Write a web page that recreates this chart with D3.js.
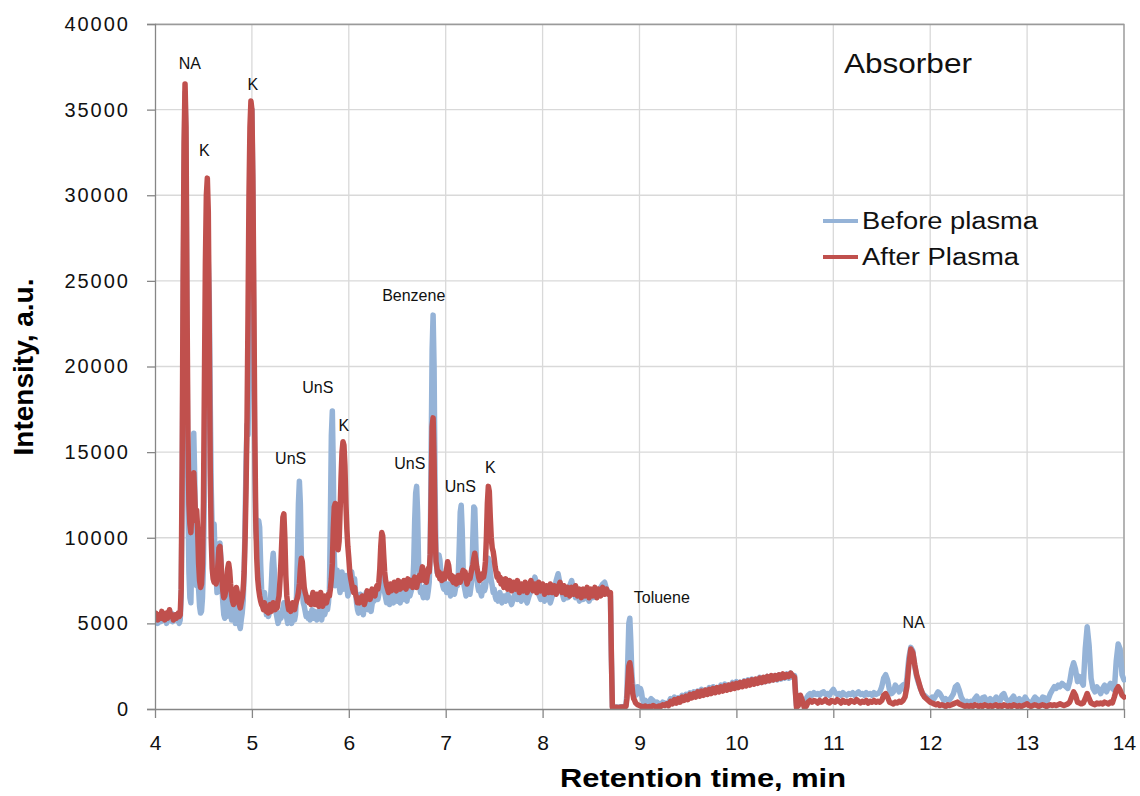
<!DOCTYPE html>
<html>
<head>
<meta charset="utf-8">
<script src="https://cdn.jsdelivr.net/npm/d3@7"></script>
<style>
  body { margin: 0; background: #fff; }
  svg { font-family: "Liberation Sans", Arial, sans-serif; }
  .grid line { stroke: #d9d9d9; stroke-width: 1.3px; }
  .axis path, .axis line { stroke: #868686; stroke-width: 1.3px; }
  .axis text { fill: #111; }
  .series { fill: none; stroke-width: 5.5px; stroke-linejoin: round; stroke-linecap: round; }
</style>
</head>
<body>
<svg id="chart" width="1140" height="796"></svg>
<script>
// axis ticks
var xTicks = [4, 5, 6, 7, 8, 9, 10, 11, 12, 13, 14];
var yTicks = [0, 5000, 10000, 15000, 20000, 25000, 30000, 35000, 40000];

var seriesNames = ["Before plasma", "After Plasma"];
var seriesColors = ["#95b3d7", "#c0504d"];

// [retention time (min), intensity (a.u.)]
var beforePlasma = [
  [4.00,5100],[4.02,5300],[4.03,5000],[4.05,5400],[4.06,5100],[4.08,5500],[4.09,5200],[4.11,5300],[4.12,5000],[4.14,5400],
  [4.15,5200],[4.17,5600],[4.18,5100],[4.20,5500],[4.21,5200],[4.23,5300],[4.25,5000],[4.26,5200],[4.27,6500],[4.28,12000],
  [4.29,22000],[4.30,31000],[4.31,36000],[4.32,33000],[4.33,22000],[4.34,12000],[4.35,8000],[4.36,6500],[4.37,6200],[4.38,9000],
  [4.39,14000],[4.40,16100],[4.41,13500],[4.42,9000],[4.43,7200],[4.44,8500],[4.45,7000],[4.46,6000],[4.47,5600],[4.48,5700],
  [4.49,6500],[4.50,8500],[4.51,13000],[4.52,19000],[4.53,23000],[4.54,25500],[4.55,26100],[4.56,24000],[4.57,18000],[4.58,13000],
  [4.59,10500],[4.60,9500],[4.61,10800],[4.62,9000],[4.63,7800],[4.64,6800],[4.65,7500],[4.66,8400],[4.67,9700],[4.68,8800],
  [4.69,7200],[4.70,6200],[4.71,5500],[4.72,5300],[4.73,6000],[4.74,5400],[4.75,6200],[4.76,6800],[4.77,6500],[4.78,5800],
  [4.79,5200],[4.80,5500],[4.81,6100],[4.82,5300],[4.83,5000],[4.84,5600],[4.85,6200],[4.86,5400],[4.87,4900],[4.88,4700],
  [4.89,5200],[4.90,5600],[4.91,6300],[4.92,8000],[4.93,11000],[4.94,14500],[4.95,16600],[4.96,16000],[4.97,20000],[4.98,28000],
  [4.99,34000],[5.00,35000],[5.01,30000],[5.02,21000],[5.03,14000],[5.04,10500],[5.05,9800],[5.06,10200],[5.07,11000],[5.08,10600],
  [5.09,8500],[5.10,7000],[5.11,6300],[5.12,6000],[5.13,6800],[5.14,6200],[5.15,5500],[5.16,5800],[5.17,5400],[5.18,5600],
  [5.19,6200],[5.20,7200],[5.21,8500],[5.22,9100],[5.23,8200],[5.24,6500],[5.25,5600],[5.26,5300],[5.27,5000],[5.28,5200],
  [5.29,5600],[5.30,5300],[5.31,5500],[5.32,5900],[5.33,6200],[5.34,6000],[5.35,5600],[5.36,5300],[5.37,5000],[5.38,5200],
  [5.39,5400],[5.40,5100],[5.41,5000],[5.42,5300],[5.43,5600],[5.44,5200],[5.45,5500],[5.46,6500],[5.47,9000],[5.48,12000],
  [5.49,13300],[5.50,12000],[5.51,9000],[5.52,7000],[5.53,6200],[5.54,6000],[5.55,5700],[5.56,5400],[5.57,5600],[5.58,5300],
  [5.59,5500],[5.60,5200],[5.61,5500],[5.62,5800],[5.63,5400],[5.64,5300],[5.65,5700],[5.66,5500],[5.67,5200],[5.68,5600],
  [5.69,5400],[5.70,5800],[5.71,5500],[5.72,5200],[5.73,5600],[5.74,5900],[5.75,5500],[5.76,5700],[5.77,6000],[5.78,5800],
  [5.79,6200],[5.80,7000],[5.81,11000],[5.82,16000],[5.83,17400],[5.84,14000],[5.85,9000],[5.86,7200],[5.87,7800],[5.88,8100],
  [5.89,7600],[5.90,7200],[5.91,6800],[5.92,7500],[5.93,8000],[5.94,7400],[5.95,7000],[5.96,7300],[5.97,7800],[5.98,7100],
  [5.99,6600],[6.00,6900],[6.01,7400],[6.02,7800],[6.03,8000],[6.04,7500],[6.05,7000],[6.06,7600],[6.07,6800],[6.08,6200],
  [6.09,5800],[6.10,5600],[6.11,6200],[6.12,6700],[6.13,6300],[6.14,5800],[6.15,5500],[6.16,6000],[6.17,6600],[6.18,6800],
  [6.19,6200],[6.20,5800],[6.21,6300],[6.22,6000],[6.23,5700],[6.24,6100],[6.25,6500],[6.26,6300],[6.27,6800],[6.28,7000],
  [6.29,6600],[6.30,6400],[6.31,6700],[6.32,7100],[6.33,7800],[6.34,8200],[6.35,8000],[6.36,7300],[6.37,6800],[6.38,6500],
  [6.39,6200],[6.40,6600],[6.41,6300],[6.42,6100],[6.43,6500],[6.44,6800],[6.45,6400],[6.46,6200],[6.47,6600],[6.48,6900],
  [6.49,6500],[6.50,6300],[6.51,6700],[6.52,6400],[6.53,6200],[6.54,6600],[6.55,7000],[6.56,6700],[6.57,6400],[6.58,6800],
  [6.59,6500],[6.60,6300],[6.61,6700],[6.62,6900],[6.63,6600],[6.64,6800],[6.65,7000],[6.66,7300],[6.67,8500],[6.68,11000],
  [6.69,12600],[6.70,13000],[6.71,11500],[6.72,8500],[6.73,7200],[6.74,6800],[6.75,7100],[6.76,6700],[6.77,6500],[6.78,6900],
  [6.79,7200],[6.80,6800],[6.81,6500],[6.82,6900],[6.83,7400],[6.84,9000],[6.85,15000],[6.86,21000],[6.87,23000],[6.88,20000],
  [6.89,13000],[6.90,9000],[6.91,8000],[6.92,8500],[6.93,9000],[6.94,8700],[6.95,8000],[6.96,7500],[6.97,7200],[6.98,7000],
  [6.99,7400],[7.00,7200],[7.01,6800],[7.02,7000],[7.03,7300],[7.04,6900],[7.05,6600],[7.06,7000],[7.07,7300],[7.08,6900],
  [7.09,6700],[7.10,7000],[7.11,7400],[7.12,7200],[7.13,7800],[7.14,9500],[7.15,11500],[7.16,11900],[7.17,10500],[7.18,8200],
  [7.19,7200],[7.20,6900],[7.21,6600],[7.22,7000],[7.23,7300],[7.24,6900],[7.25,6700],[7.26,7100],[7.27,7600],[7.28,10000],
  [7.29,11800],[7.30,11700],[7.31,9800],[7.32,7800],[7.33,7200],[7.34,6900],[7.35,7100],[7.36,6800],[7.37,6600],[7.38,7000],
  [7.39,7300],[7.40,6900],[7.41,7100],[7.42,7600],[7.43,8200],[7.44,8800],[7.45,8600],[7.46,8000],[7.47,7500],[7.48,7200],
  [7.49,6800],[7.50,7000],[7.51,6600],[7.52,6400],[7.53,6700],[7.54,6300],[7.55,6500],[7.56,6800],[7.57,6400],[7.58,6200],
  [7.60,6600],[7.62,6300],[7.64,6700],[7.66,6400],[7.68,6100],[7.70,6500],[7.72,6800],[7.74,6400],[7.76,6600],[7.78,6300],
  [7.80,6700],[7.82,6500],[7.84,6200],[7.86,6600],[7.88,6900],[7.90,7200],[7.92,7700],[7.94,7300],[7.96,6700],[7.98,6400],
  [8.00,6600],[8.02,6300],[8.04,6700],[8.06,6500],[8.08,6200],[8.10,6600],[8.12,6900],[8.14,7500],[8.16,7900],[8.18,7300],
  [8.20,6800],[8.22,6400],[8.24,6700],[8.26,6500],[8.28,7200],[8.30,7500],[8.32,6900],[8.34,6500],[8.36,6700],[8.38,6300],
  [8.40,6600],[8.42,6400],[8.44,6800],[8.46,6500],[8.48,6300],[8.50,6700],[8.52,6500],[8.54,6800],[8.56,6600],[8.58,6900],
  [8.60,7100],[8.62,7300],[8.64,7400],[8.66,7000],[8.68,6800],[8.70,6600],[8.71,3000],[8.72,150],[8.74,100],[8.76,120],
  [8.78,100],[8.80,130],[8.82,110],[8.84,150],[8.86,200],[8.87,900],[8.88,3000],[8.89,5000],[8.90,5300],[8.91,4000],
  [8.92,2200],[8.93,1400],[8.94,1200],[8.95,1000],[8.96,800],[8.97,900],[8.98,1300],[8.99,1100],[9.00,900],[9.01,1200],
  [9.02,1000],[9.03,600],[9.04,400],[9.06,500],[9.08,300],[9.10,400],[9.12,600],[9.14,500],[9.16,300],[9.18,400],
  [9.20,300],[9.22,250],[9.24,400],[9.26,350],[9.28,300],[9.30,350],[9.32,600],[9.34,400],[9.36,700],[9.38,450],
  [9.40,650],[9.42,500],[9.44,800],[9.46,550],[9.48,850],[9.50,650],[9.52,950],[9.54,700],[9.56,1000],[9.58,750],
  [9.60,1050],[9.62,800],[9.64,1150],[9.66,900],[9.68,1100],[9.70,950],[9.72,1250],[9.74,950],[9.76,1300],[9.78,1050],
  [9.80,1250],[9.82,1100],[9.84,1400],[9.86,1150],[9.88,1450],[9.90,1200],[9.92,1400],[9.94,1250],[9.96,1550],[9.98,1250],
  [10.00,1600],[10.02,1300],[10.04,1550],[10.06,1350],[10.08,1650],[10.10,1400],[10.12,1700],[10.14,1450],[10.16,1750],[10.18,1500],
  [10.20,1700],[10.22,1550],[10.24,1850],[10.26,1550],[10.28,1800],[10.30,1600],[10.32,1900],[10.34,1650],[10.36,1850],[10.38,1700],
  [10.40,1950],[10.42,1700],[10.44,2000],[10.46,1750],[10.48,1950],[10.50,1800],[10.52,2050],[10.54,1800],[10.56,2100],[10.58,1850],
  [10.60,1950],[10.61,1000],[10.62,200],[10.64,300],[10.66,700],[10.68,500],[10.70,300],[10.72,600],[10.74,800],[10.76,900],
  [10.78,800],[10.80,950],[10.82,850],[10.84,900],[10.86,800],[10.88,950],[10.90,1000],[10.92,850],[10.94,900],[10.96,800],
  [10.98,1000],[11.00,1150],[11.02,950],[11.04,850],[11.06,900],[11.08,800],[11.10,950],[11.12,850],[11.14,800],[11.16,900],
  [11.18,850],[11.20,950],[11.22,800],[11.24,900],[11.26,1000],[11.28,850],[11.30,900],[11.32,800],[11.34,950],[11.36,850],
  [11.38,900],[11.40,800],[11.42,950],[11.44,850],[11.46,900],[11.48,1000],[11.50,1300],[11.52,1800],[11.54,2000],[11.56,1700],
  [11.58,1100],[11.60,900],[11.62,1000],[11.64,1400],[11.66,1200],[11.68,1000],[11.70,1300],[11.72,1400],[11.74,1100],[11.76,1800],
  [11.78,3000],[11.80,3600],[11.82,3400],[11.84,2500],[11.86,1900],[11.88,1500],[11.90,1200],[11.92,900],[11.94,800],[11.96,700],
  [11.98,600],[12.00,500],[12.02,700],[12.04,600],[12.06,800],[12.08,1000],[12.10,900],[12.12,700],[12.14,500],[12.16,600],
  [12.18,500],[12.20,550],[12.22,700],[12.24,900],[12.26,1300],[12.28,1400],[12.30,1100],[12.32,700],[12.34,500],[12.36,400],
  [12.38,450],[12.40,350],[12.42,450],[12.44,400],[12.46,600],[12.48,750],[12.50,500],[12.52,400],[12.54,650],[12.56,700],
  [12.58,500],[12.60,450],[12.62,600],[12.64,400],[12.66,500],[12.68,700],[12.70,600],[12.72,450],[12.74,800],[12.76,900],
  [12.78,600],[12.80,500],[12.82,400],[12.84,600],[12.86,750],[12.88,500],[12.90,400],[12.92,600],[12.94,500],[12.96,400],
  [12.98,700],[13.00,500],[13.02,400],[13.04,350],[13.06,500],[13.08,700],[13.10,600],[13.12,400],[13.14,450],[13.16,700],
  [13.18,650],[13.20,400],[13.22,600],[13.24,900],[13.26,1100],[13.28,1300],[13.30,1200],[13.32,1400],[13.34,1300],[13.36,1500],
  [13.38,1400],[13.40,1300],[13.42,1200],[13.44,1600],[13.46,2300],[13.48,2700],[13.50,2300],[13.52,1600],[13.54,1900],[13.56,1600],
  [13.58,1400],[13.60,3500],[13.62,4800],[13.64,3700],[13.66,1800],[13.68,1200],[13.70,1000],[13.72,1300],[13.74,1100],[13.76,900],
  [13.78,1200],[13.80,1400],[13.82,1000],[13.84,1300],[13.86,1500],[13.88,1200],[13.90,1100],[13.92,2800],[13.94,3800],[13.96,3500],
  [13.98,2000],[14.00,1700]
];

var afterPlasma = [
  [4.00,5300],[4.01,5600],[4.03,5200],[4.04,5500],[4.06,5300],[4.07,5700],[4.09,5400],[4.10,5200],[4.12,5600],[4.13,5300],
  [4.15,5800],[4.16,5400],[4.18,5500],[4.19,5200],[4.21,5500],[4.22,5300],[4.24,5600],[4.25,5400],[4.26,5500],[4.27,7000],
  [4.28,14000],[4.29,25000],[4.30,33000],[4.31,36500],[4.32,34000],[4.33,24000],[4.34,16000],[4.35,12000],[4.36,10800],[4.37,10300],
  [4.38,11500],[4.39,13000],[4.40,13800],[4.41,12500],[4.42,11000],[4.43,11600],[4.44,10500],[4.45,8500],[4.46,7500],[4.47,7100],
  [4.48,7300],[4.49,8500],[4.50,12000],[4.51,19000],[4.52,26000],[4.53,30000],[4.54,31000],[4.55,29000],[4.56,22000],[4.57,14000],
  [4.58,10000],[4.59,8200],[4.60,7600],[4.61,7400],[4.62,7800],[4.63,7300],[4.64,7600],[4.65,8500],[4.66,9400],[4.67,9500],
  [4.68,8700],[4.69,7600],[4.70,6900],[4.71,6500],[4.72,6600],[4.73,6900],[4.74,7500],[4.75,8200],[4.76,8500],[4.77,8100],
  [4.78,7300],[4.79,6700],[4.80,6300],[4.81,6100],[4.82,6300],[4.83,6700],[4.84,7100],[4.85,6800],[4.86,6300],[4.87,6100],
  [4.88,5900],[4.89,6200],[4.90,6500],[4.91,7000],[4.92,8000],[4.93,10000],[4.94,13000],[4.95,17000],[4.96,23000],[4.97,30000],
  [4.98,34000],[4.99,35500],[5.00,35000],[5.01,31000],[5.02,24000],[5.03,16000],[5.04,11000],[5.05,8800],[5.06,7600],[5.07,7000],
  [5.08,6600],[5.09,6300],[5.10,6100],[5.11,6000],[5.12,5800],[5.13,6200],[5.14,5900],[5.15,5700],[5.16,6000],[5.17,5600],
  [5.18,5800],[5.19,6100],[5.20,5700],[5.21,5900],[5.22,6200],[5.23,6000],[5.24,5800],[5.25,6100],[5.26,5900],[5.27,6300],
  [5.28,6600],[5.29,7500],[5.30,8600],[5.31,10000],[5.32,11200],[5.33,11400],[5.34,10000],[5.35,7800],[5.36,6600],[5.37,6100],
  [5.38,5800],[5.39,6000],[5.40,5700],[5.41,5900],[5.42,6200],[5.43,6000],[5.44,5800],[5.45,6100],[5.46,6300],[5.47,6500],
  [5.48,6800],[5.49,7300],[5.50,8200],[5.51,8800],[5.52,8600],[5.53,7800],[5.54,7100],[5.55,6800],[5.56,6600],[5.57,6300],
  [5.58,6500],[5.59,6200],[5.60,6400],[5.61,6100],[5.62,6500],[5.63,6800],[5.64,6300],[5.65,6100],[5.66,6500],[5.67,6700],
  [5.68,6200],[5.69,6000],[5.70,6400],[5.71,6800],[5.72,6300],[5.73,6000],[5.74,6200],[5.75,6600],[5.76,6300],[5.77,6200],
  [5.78,6500],[5.79,6700],[5.80,6600],[5.81,7000],[5.82,7600],[5.83,8500],[5.84,10500],[5.85,11800],[5.86,12000],[5.87,11200],
  [5.88,9800],[5.89,9300],[5.90,9800],[5.91,11500],[5.92,13500],[5.93,15000],[5.94,15600],[5.95,15400],[5.96,14200],[5.97,12000],
  [5.98,10500],[5.99,9500],[6.00,8800],[6.01,8000],[6.02,7600],[6.03,7300],[6.04,7000],[6.05,6800],[6.06,7100],[6.07,6700],
  [6.08,6500],[6.09,6200],[6.10,6400],[6.11,6200],[6.12,6500],[6.13,6300],[6.14,6600],[6.15,6400],[6.16,6100],[6.17,6300],
  [6.18,6600],[6.19,6900],[6.20,6500],[6.21,6700],[6.22,6400],[6.23,6800],[6.24,7000],[6.25,6700],[6.26,6900],[6.27,6600],
  [6.28,7000],[6.29,7200],[6.30,7000],[6.31,7400],[6.32,8200],[6.33,9500],[6.34,10300],[6.35,10100],[6.36,9000],[6.37,8000],
  [6.38,7500],[6.39,7200],[6.40,7000],[6.41,6800],[6.42,7100],[6.43,7300],[6.44,6900],[6.45,7200],[6.46,7000],[6.47,7400],
  [6.48,7100],[6.49,6900],[6.50,7300],[6.51,7500],[6.52,7200],[6.53,7000],[6.54,7400],[6.55,7300],[6.56,7100],[6.57,7500],
  [6.58,7200],[6.59,7000],[6.60,7300],[6.61,7600],[6.62,7400],[6.63,7200],[6.64,7500],[6.65,7300],[6.66,7100],[6.67,7400],
  [6.68,7700],[6.69,7300],[6.70,7100],[6.71,7400],[6.72,7600],[6.73,7800],[6.74,7500],[6.75,8000],[6.76,8300],[6.77,7800],
  [6.78,7500],[6.79,7700],[6.80,7400],[6.81,7800],[6.82,8200],[6.83,8000],[6.84,9000],[6.85,12500],[6.86,16500],[6.87,17000],
  [6.88,14500],[6.89,10500],[6.90,8600],[6.91,8200],[6.92,7800],[6.93,8000],[6.94,7600],[6.95,7900],[6.96,7500],[6.97,7700],
  [6.98,7900],[6.99,7600],[7.00,7900],[7.01,8200],[7.02,8600],[7.03,8400],[7.04,7900],[7.05,7600],[7.06,7800],[7.07,7500],
  [7.08,7400],[7.09,7700],[7.10,7600],[7.11,7300],[7.12,7500],[7.13,7800],[7.14,7600],[7.15,7400],[7.16,7700],[7.17,7900],
  [7.18,8100],[7.19,7800],[7.20,8000],[7.21,7600],[7.22,7300],[7.23,7500],[7.24,7800],[7.25,7600],[7.26,7900],[7.27,8200],
  [7.28,8400],[7.29,8800],[7.30,9100],[7.31,8700],[7.32,8300],[7.33,8000],[7.34,7700],[7.35,7500],[7.36,7800],[7.37,7600],
  [7.38,7900],[7.39,7700],[7.40,8000],[7.41,8600],[7.42,10000],[7.43,12000],[7.44,13000],[7.45,12700],[7.46,11200],[7.47,10000],
  [7.48,9400],[7.49,9200],[7.50,8800],[7.51,8300],[7.52,8000],[7.53,7700],[7.54,7900],[7.55,7500],[7.56,7700],[7.57,7300],
  [7.58,7600],[7.60,7100],[7.62,7600],[7.64,7000],[7.66,7500],[7.68,6900],[7.70,7400],[7.72,7000],[7.74,7500],[7.76,6800],
  [7.78,7300],[7.80,6900],[7.82,7400],[7.84,6800],[7.86,7200],[7.88,7500],[7.90,6900],[7.92,7300],[7.94,6800],[7.96,7400],
  [7.98,6900],[8.00,7300],[8.02,6700],[8.04,7200],[8.06,6800],[8.08,7300],[8.10,6800],[8.12,7200],[8.14,6700],[8.16,7100],
  [8.18,7400],[8.20,6800],[8.22,7200],[8.24,6700],[8.26,7100],[8.28,6600],[8.30,7100],[8.32,6700],[8.34,7200],[8.36,6600],
  [8.38,7000],[8.40,6500],[8.42,7000],[8.44,6600],[8.46,7100],[8.48,6500],[8.50,7000],[8.52,6600],[8.54,7100],[8.56,6500],
  [8.58,7000],[8.60,6600],[8.62,7100],[8.64,6700],[8.66,7000],[8.68,6700],[8.70,6800],[8.71,3000],[8.72,100],[8.74,80],
  [8.76,100],[8.78,90],[8.80,100],[8.82,120],[8.84,100],[8.86,150],[8.87,600],[8.88,1600],[8.89,2500],[8.90,2700],
  [8.91,2300],[8.92,1500],[8.93,900],[8.94,600],[8.95,500],[8.96,350],[8.98,250],[9.00,200],[9.02,150],[9.04,120],
  [9.06,180],[9.08,100],[9.10,150],[9.12,120],[9.14,200],[9.16,150],[9.18,100],[9.20,180],[9.22,150],[9.24,250],
  [9.26,200],[9.28,300],[9.30,200],[9.32,450],[9.34,300],[9.36,550],[9.38,350],[9.40,600],[9.42,400],[9.44,700],
  [9.46,500],[9.48,750],[9.50,550],[9.52,850],[9.54,650],[9.56,900],[9.58,700],[9.60,1000],[9.62,750],[9.64,1050],
  [9.66,800],[9.68,1100],[9.70,850],[9.72,1150],[9.74,900],[9.76,1200],[9.78,950],[9.80,1250],[9.82,1000],[9.84,1300],
  [9.86,1050],[9.88,1350],[9.90,1100],[9.92,1400],[9.94,1150],[9.96,1450],[9.98,1200],[10.00,1500],[10.02,1250],[10.04,1550],
  [10.06,1300],[10.08,1600],[10.10,1350],[10.12,1650],[10.14,1400],[10.16,1700],[10.18,1450],[10.20,1750],[10.22,1500],[10.24,1800],
  [10.26,1550],[10.28,1850],[10.30,1600],[10.32,1900],[10.34,1650],[10.36,1950],[10.38,1700],[10.40,1950],[10.42,1750],[10.44,2000],
  [10.46,1800],[10.48,2050],[10.50,1850],[10.52,2000],[10.54,1900],[10.56,2100],[10.58,1950],[10.60,1850],[10.61,900],[10.62,100],
  [10.64,200],[10.66,800],[10.68,500],[10.70,100],[10.72,150],[10.74,400],[10.76,500],[10.78,400],[10.80,500],[10.82,450],
  [10.84,350],[10.86,500],[10.88,400],[10.90,450],[10.92,550],[10.94,400],[10.96,350],[10.98,500],[11.00,450],[11.02,400],
  [11.04,550],[11.06,450],[11.08,350],[11.10,500],[11.12,400],[11.14,450],[11.16,350],[11.18,500],[11.20,450],[11.22,400],
  [11.24,550],[11.26,450],[11.28,350],[11.30,450],[11.32,400],[11.34,500],[11.36,350],[11.38,450],[11.40,400],[11.42,500],
  [11.44,400],[11.46,450],[11.48,400],[11.50,500],[11.52,800],[11.54,900],[11.56,700],[11.58,400],[11.60,350],[11.62,300],
  [11.64,400],[11.66,350],[11.68,450],[11.70,400],[11.72,500],[11.74,700],[11.76,1300],[11.78,2600],[11.80,3500],[11.82,3300],
  [11.84,2600],[11.86,2000],[11.88,1600],[11.90,1200],[11.92,900],[11.94,700],[11.96,600],[11.98,500],[12.00,400],[12.02,350],
  [12.04,300],[12.06,250],[12.08,300],[12.10,200],[12.12,250],[12.14,200],[12.16,150],[12.18,250],[12.20,200],[12.22,250],
  [12.24,300],[12.26,350],[12.28,400],[12.30,300],[12.32,250],[12.34,200],[12.36,150],[12.38,200],[12.40,150],[12.42,200],
  [12.44,150],[12.46,250],[12.48,200],[12.50,150],[12.52,200],[12.54,150],[12.56,250],[12.58,200],[12.60,150],[12.62,200],
  [12.64,150],[12.66,200],[12.68,250],[12.70,150],[12.72,200],[12.74,150],[12.76,250],[12.78,200],[12.80,150],[12.82,200],
  [12.84,150],[12.86,250],[12.88,200],[12.90,150],[12.92,200],[12.94,150],[12.96,200],[12.98,250],[13.00,300],[13.02,200],
  [13.04,150],[13.06,200],[13.08,250],[13.10,200],[13.12,150],[13.14,200],[13.16,250],[13.18,200],[13.20,150],[13.22,200],
  [13.24,250],[13.26,200],[13.28,250],[13.30,200],[13.32,250],[13.34,300],[13.36,250],[13.38,200],[13.40,250],[13.42,300],
  [13.44,400],[13.46,700],[13.48,1000],[13.50,800],[13.52,400],[13.54,350],[13.56,300],[13.58,350],[13.60,600],[13.62,900],
  [13.64,600],[13.66,350],[13.68,300],[13.70,250],[13.72,350],[13.74,300],[13.76,350],[13.78,300],[13.80,400],[13.82,350],
  [13.84,300],[13.86,400],[13.88,350],[13.90,700],[13.92,1100],[13.94,1300],[13.96,1100],[13.98,800],[14.00,700]
];

// peak labels: text, retention time of label centre, intensity at label baseline
var peakLabels = ["NA", "K", "K", "UnS", "UnS", "K", "Benzene", "UnS", "UnS", "K", "Toluene", "NA"];
var peakLabelTimes = [4.36, 4.51, 5.01, 5.40, 5.68, 5.95, 6.67, 6.63, 7.15, 7.46, 9.23, 11.83];
var peakLabelLevels = [37400, 32300, 36150, 14300, 18450, 16230, 23800, 14000, 12670, 13780, 6190, 4730];

var margin = {top: 24, right: 16, bottom: 87, left: 155};
var width = 1140 - margin.left - margin.right;
var height = 796 - margin.top - margin.bottom;

var svg = d3.select("#chart");
var g = svg.append("g").attr("transform", "translate(" + margin.left + "," + margin.top + ")");

var x = d3.scaleLinear().domain([4, 14]).range([0, width]);
var y = d3.scaleLinear().domain([0, 40000]).range([height, 0]);

// gridlines
g.append("g").attr("class", "grid")
  .selectAll("line.v").data(xTicks.slice(1)).enter().append("line")
    .attr("x1", function(d) { return x(d); }).attr("x2", function(d) { return x(d); })
    .attr("y1", 0).attr("y2", height);
g.select(".grid")
  .selectAll("line.h").data(yTicks.slice(1)).enter().append("line")
    .attr("x1", 0).attr("x2", width)
    .attr("y1", function(d) { return y(d); }).attr("y2", function(d) { return y(d); });

// plot border top and right
g.append("path")
  .attr("d", "M0,0.5H" + width + "V" + height)
  .attr("fill", "none").attr("stroke", "#9a9a9a").attr("stroke-width", 1.3);

g.append("clipPath").attr("id", "clip")
  .append("rect").attr("x", 0).attr("y", -2).attr("width", width + 2).attr("height", height + 2);

var line = d3.line()
  .x(function(d) { return x(d[0]); })
  .y(function(d) { return y(d[1]); });

var plot = g.append("g").attr("clip-path", "url(#clip)");
[beforePlasma, afterPlasma].forEach(function(s, i) {
  plot.append("path")
    .datum(s)
    .attr("class", "series")
    .attr("stroke", seriesColors[i])
    .attr("d", line);
});

// axes
var yAxis = g.append("g").attr("class", "axis")
  .call(d3.axisLeft(y).tickValues(yTicks).tickSize(8).tickPadding(19).tickFormat(d3.format("d")));
yAxis.selectAll("text").attr("font-size", 20).style("letter-spacing", "2px").attr("dx", "2px");

var xAxis = g.append("g").attr("class", "axis")
  .attr("transform", "translate(0," + height + ")")
  .call(d3.axisBottom(x).tickValues(xTicks).tickSize(9).tickPadding(17).tickFormat(d3.format("d")));
xAxis.selectAll("text").attr("font-size", 21);
xAxis.select(".domain").attr("d", "M0,0.5H" + width);

// axis titles
svg.append("text")
  .attr("x", 703).attr("y", 787)
  .attr("text-anchor", "middle")
  .attr("font-size", 26).attr("font-weight", "bold")
  .attr("textLength", 286).attr("lengthAdjust", "spacingAndGlyphs")
  .text("Retention time, min");

svg.append("text")
  .attr("transform", "translate(33,367)rotate(-90)")
  .attr("text-anchor", "middle")
  .attr("font-size", 28).attr("font-weight", "bold")
  .text("Intensity, a.u.");

// peak labels
g.selectAll(".peak").data(peakLabels).enter().append("text")
  .attr("class", "peak")
  .attr("x", function(d, i) { return x(peakLabelTimes[i]); })
  .attr("y", function(d, i) { return y(peakLabelLevels[i]); })
  .attr("text-anchor", "middle")
  .attr("font-size", 16)
  .attr("fill", "#111")
  .text(function(d) { return d; });

// panel title
g.append("text")
  .attr("x", x(11.11)).attr("y", y(37140))
  .attr("font-size", 28)
  .attr("textLength", 128).attr("lengthAdjust", "spacingAndGlyphs")
  .attr("fill", "#111")
  .text("Absorber");

// legend
var legendLens = [176, 157];
var legend = svg.append("g").attr("transform", "translate(823,221)");
seriesNames.forEach(function(name, i) {
  var row = legend.append("g").attr("transform", "translate(0," + i * 36 + ")");
  row.append("line").attr("x1", 0).attr("x2", 35)
    .attr("stroke", seriesColors[i]).attr("stroke-width", 4);
  row.append("text").attr("x", 39).attr("y", 8)
    .attr("font-size", 23)
    .attr("textLength", legendLens[i]).attr("lengthAdjust", "spacingAndGlyphs")
    .attr("fill", "#111")
    .text(name);
});
</script>
</body>
</html>
